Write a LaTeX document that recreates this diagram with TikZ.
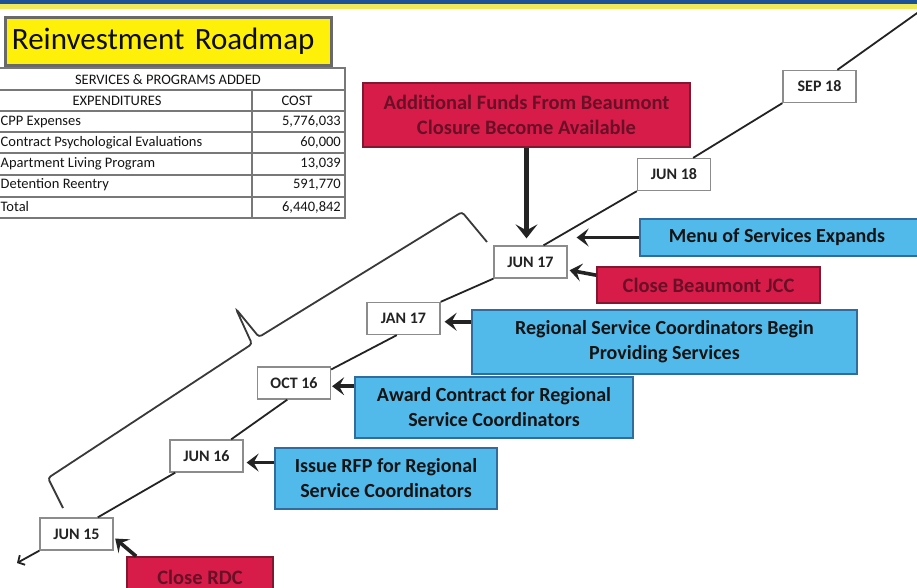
\documentclass[tikz,border=0pt]{standalone}
\usepackage{fontspec}
\setmainfont{Carlito}
\usetikzlibrary{arrows.meta,calc}
\definecolor{topblue}{RGB}{30,82,152}
\definecolor{topyellow}{RGB}{240,234,90}
\definecolor{titleyellow}{RGB}{255,240,10}
\definecolor{titleedge}{RGB}{105,105,105}
\definecolor{bluefill}{RGB}{82,186,235}
\definecolor{blueedge}{RGB}{48,108,158}
\definecolor{redfill}{RGB}{216,28,74}
\definecolor{rededge}{RGB}{125,25,48}
\definecolor{redtext}{RGB}{105,16,38}
\definecolor{dategray}{RGB}{140,140,140}
\definecolor{inkc}{RGB}{35,35,35}
\definecolor{tablegray}{RGB}{120,120,120}
\begin{document}
\begin{tikzpicture}[x=1pt,y=-1pt,
  datebox/.style={draw=dategray, line width=1.3pt, fill=white, minimum width=73pt, minimum height=32pt, inner sep=0pt, font=\fontsize{16}{18}\selectfont\bfseries, text=inkc},
  bluebox/.style={draw=blueedge, line width=1.8pt, fill=bluefill, inner sep=0pt, align=center, font=\fontsize{20}{25}\selectfont\bfseries, text=black!92},
  redbox/.style={draw=rededge, line width=1.5pt, fill=redfill, inner sep=0pt, align=center, font=\fontsize{20.5}{25}\selectfont\bfseries, text=redtext},
  tline/.style={draw=inkc, line width=1.8pt},
  bigarrow/.style={draw=inkc, line width=3.6pt, -{Stealth[length=12pt,width=18pt,inset=5pt]}},
  tcell/.style={font=\fontsize{14.5}{16}\selectfont, text=black!92, inner sep=0pt},
  brace/.style={draw=inkc!90, line width=1.8pt, rounded corners=3pt}
]
\useasboundingbox (0,0) rectangle (917,588);
\fill[white] (0,0) rectangle (917,588);
% top bar
\fill[topyellow] (0,4) rectangle (917,9.5);
\fill[topblue] (0,0) rectangle (917,4.5);

% title
\node[draw=titleedge, line width=3pt, fill=titleyellow, anchor=north west, text width=312pt, inner xsep=7pt, inner ysep=0pt, minimum height=48pt, align=left, font=\fontsize{31}{31}\selectfont, text=black!95] (title) at (3.5,16) {Reinvestment Roadmap};

% table
\draw[tablegray, line width=1.4pt] (-5,68) rectangle (345,218);
\foreach \yy in {90,111,132,153,175,197} \draw[tablegray, line width=1.2pt] (-5,\yy) -- (345,\yy);
\draw[tablegray, line width=1.2pt] (252,90) -- (252,218);
\node[tcell] (th) at (168,79.5) {SERVICES \& PROGRAMS ADDED};
\node[tcell] (te) at (117,100.5) {EXPENDITURES};
\node[tcell] (tc) at (297,100.5) {COST};
\node[tcell, anchor=west] (r1) at (0.5,121.5) {CPP Expenses};
\node[tcell, anchor=east] (c1) at (341,121.5) {5,776,033};
\node[tcell, anchor=west] (r2) at (0.5,142.5) {Contract Psychological Evaluations};
\node[tcell, anchor=east] (c2) at (341,142.5) {60,000};
\node[tcell, anchor=west] (r3) at (0.5,163.5) {Apartment Living Program};
\node[tcell, anchor=east] (c3) at (341,163.5) {13,039};
\node[tcell, anchor=west] (r4) at (0.5,185) {Detention Reentry};
\node[tcell, anchor=east] (c4) at (341,185) {591,770};
\node[tcell, anchor=west] (r5) at (0.5,207) {Total};
\node[tcell, anchor=east] (c5) at (341,207) {6,440,842};

% date boxes
\node[datebox] (j15) at (76.5,534) {JUN 15};
\node[datebox] (j16) at (206.5,456) {JUN 16};
\node[datebox] (o16) at (294,383) {OCT 16};
\node[datebox] (j17) at (403.5,318.5) {JAN 17};
\node[datebox] (j17b) at (530.5,262) {JUN 17};
\node[datebox] (j18) at (674,174.5) {JUN 18};
\node[datebox] (s18) at (819.5,86.5) {SEP 18};

% timeline
\coordinate (tl) at (17,563);
\coordinate (tr) at (920,11);
\draw[tline, -{Straight Barb[length=5pt,width=11pt]}] (j15.south west) -- (tl);
\draw[tline] (j15.38) -- (j16.-152);
\draw[tline] (j16.34) -- (o16.-112);
\draw[tline] (o16.20) -- (j17.-112);
\draw[tline] (j17.north east) -- (j17b.south west);
\draw[tline] (j17b.52) -- (j18.south west);
\draw[tline] (j18.41) -- (s18.south west);
\draw[tline] (s18.43) -- (tr);

% brace
\draw[brace] (63,508) -- (48,478) -- (252,344) -- (236,309) -- (259,337) -- (462,212) -- (487,242);

% blue boxes
\node[bluebox, minimum width=280pt, minimum height=37pt] (menu) at (780,237.5) {Menu of Services Expands\hspace*{6pt}};
\node[bluebox, minimum width=385pt, minimum height=64pt] (rsc) at (664.5,342) {Regional Service Coordinators Begin\\Providing Services};
\node[bluebox, minimum width=278pt, minimum height=61pt] (acb) at (494,407.5) {Award Contract for Regional\\Service Coordinators};
\node[bluebox, minimum width=222pt, minimum height=61pt] (rfp) at (386,478.5) {Issue RFP for Regional\\Service Coordinators};

% red boxes
\node[redbox, minimum width=327pt, minimum height=64pt] (afb) at (526.5,115) {Additional Funds From Beaumont\\Closure Become Available};
\node[redbox, minimum width=223pt, minimum height=36pt] (cbj) at (708.5,285) {Close Beaumont JCC};
\node[redbox, minimum width=146pt, minimum height=40pt] (rdc) at (200,577) {Close RDC};

% arrows
\draw[bigarrow, line width=4.2pt, -{Stealth[length=14pt,width=22pt,inset=6pt]}, shorten >=7pt] (afb.south) -- (afb.south |- j17b.north);
\draw[bigarrow, shorten >=9pt] (menu.west) -- (menu.west -| j17b.east);
\draw[bigarrow, shorten >=2pt] (cbj.175) -- (j17b.-12);
\draw[bigarrow, shorten >=4pt] (rsc.west |- j17.-5) -- (j17.-5);
\draw[bigarrow, shorten >=1pt] (acb.west |- o16.-5) -- (o16.-5);
\draw[bigarrow, shorten >=3pt] (rfp.west |- j16.-10) -- (j16.-10);
\draw[bigarrow, shorten >=2pt] (rdc.162) -- (j15.-5);
\end{tikzpicture}
\end{document}
